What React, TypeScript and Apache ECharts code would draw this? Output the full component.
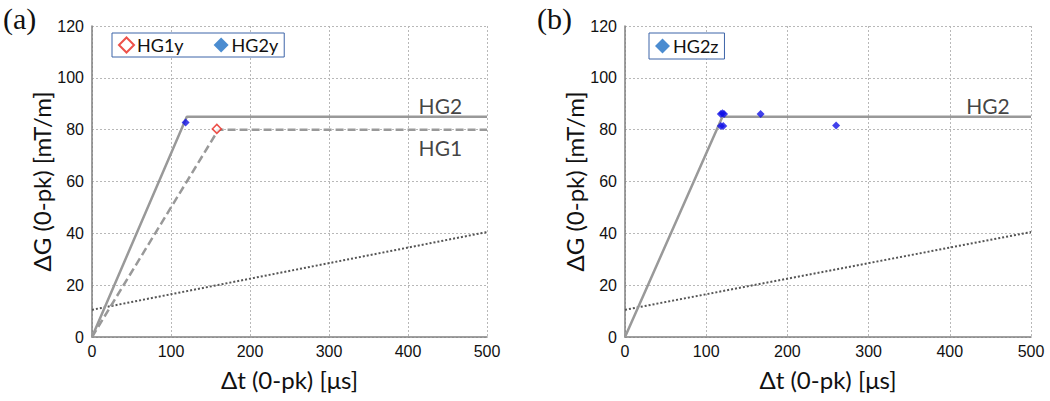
import React, { useEffect, useRef } from "react";
import * as echarts from "echarts";

const xTicks = [0, 100, 200, 300, 400, 500];
const yTicks = [0, 20, 40, 60, 80, 100, 120];
const hg2Limit: [number, number][] = [[0, 0], [120, 85], [500, 85]];
const hg1Limit: [number, number][] = [[0, 0], [160, 80], [500, 80]];
const dottedLine: [number, number][] = [[0, 10.5], [500, 40.5]];
const hg1yPoints: [number, number][] = [[158, 80.3]];
const hg2yPoints: [number, number][] = [[118.5, 82.8]];
const hg2zPoints: [number, number][] = [
  [118, 86], [120, 86.3], [122, 86], [118, 81.4], [121, 81.4], [167, 86], [260, 81.6],
];

const tickFont = "'Liberation Sans', Arial, sans-serif";
const titleFont = "Lato, 'Open Sans', sans-serif";

function makeX(gridIndex: number) {
  return {
    type: "value",
    gridIndex,
    min: xTicks[0],
    max: xTicks[xTicks.length - 1],
    interval: 100,
    name: "Δt (0-pk) [μs]",
    nameLocation: "middle",
    nameGap: 30,
    nameTextStyle: { fontFamily: titleFont, fontSize: 24, color: "#111" },
    axisLine: { show: true, lineStyle: { color: "#808080", width: 1.5 } },
    axisTick: { show: false },
    axisLabel: { fontFamily: tickFont, fontSize: 16, color: "#111", margin: 6 },
    splitLine: { show: true, lineStyle: { color: "#b8b8b8", type: [2, 2], width: 1 } },
  };
}
function makeY(gridIndex: number) {
  return {
    type: "value",
    gridIndex,
    min: yTicks[0],
    max: yTicks[yTicks.length - 1],
    interval: 20,
    name: "ΔG (0-pk) [mT/m]",
    nameLocation: "middle",
    nameGap: 35,
    nameTextStyle: { fontFamily: titleFont, fontSize: 24, color: "#111" },
    axisLine: { show: true, lineStyle: { color: "#808080", width: 1.5 } },
    axisTick: { show: false },
    axisLabel: { fontFamily: tickFont, fontSize: 16, color: "#111", margin: 8 },
    splitLine: { show: true, lineStyle: { color: "#b8b8b8", type: [2, 2], width: 1 } },
  };
}

function lineSeries(name: string, data: [number, number][], idx: number, type: any, color = "#999", width = 2.5) {
  return {
    name,
    type: "line",
    xAxisIndex: idx,
    yAxisIndex: idx,
    data,
    symbol: "none",
    silent: true,
    lineStyle: { color, width, type },
    z: 2,
  };
}

function labelSeries(idx: number, items: { pos: [number, number]; text: string }[]) {
  return {
    type: "scatter",
    xAxisIndex: idx,
    yAxisIndex: idx,
    symbolSize: 0,
    silent: true,
    data: items.map((it) => ({ value: it.pos, label: { formatter: it.text } })),
    label: {
      show: true,
      position: "inside",
      fontFamily: titleFont,
      fontSize: 21,
      color: "#111",
    },
  };
}

export default function App() {
  const ref = useRef<HTMLDivElement>(null);
  useEffect(() => {
    const chart = echarts.init(ref.current!, null, { renderer: "svg" });
    const legendBase = {
      top: 33,
      orient: "horizontal",
      itemWidth: 15,
      itemHeight: 15,
      borderColor: "#3d64a8",
      borderWidth: 1,
      backgroundColor: "#fff",
      textStyle: { fontFamily: titleFont, fontSize: 18, color: "#111", padding: [0, 0, 0, -2] },
    };
    chart.setOption({
      animation: false,
      backgroundColor: "#fff",
      grid: [
        { left: 92, right: 563, top: 26, bottom: 64 },
        { left: 625, right: 19, top: 26, bottom: 64 },
      ],
      xAxis: [makeX(0), makeX(1)],
      yAxis: [makeY(0), makeY(1)],
      legend: [
        {
          ...legendBase,
          data: [
            { name: "HG1y", itemStyle: { color: "#fff", borderColor: "#e8261d", borderWidth: 2 } },
            { name: "HG2y", itemStyle: { color: "#1e6fc4" } },
          ],
          left: 112,
          itemGap: 30,
          padding: [3, 6, 3, 6],
        },
        {
          ...legendBase,
          data: [{ name: "HG2z", itemStyle: { color: "#1e6fc4" } }],
          left: 649,
          padding: [4, 6, 4, 6],
        },
      ],
      graphic: [
        { type: "text", left: 3, top: 3, style: { text: "(a)", font: "30px 'Liberation Serif', 'Times New Roman', serif", fill: "#111" } },
        { type: "text", left: 537, top: 3, style: { text: "(b)", font: "30px 'Liberation Serif', 'Times New Roman', serif", fill: "#111" } },
      ],
      series: [
        lineSeries("dotA", dottedLine, 0, [2, 2], "#555", 2),
        lineSeries("HG1 limit", hg1Limit, 0, [8, 4]),
        lineSeries("HG2 limit", hg2Limit, 0, "solid"),
        labelSeries(0, [
          { pos: [441, 89.5], text: "HG2" },
          { pos: [441, 73], text: "HG1" },
        ]),
        {
          name: "HG1y",
          type: "scatter",
          xAxisIndex: 0,
          yAxisIndex: 0,
          data: hg1yPoints,
          symbol: "diamond",
          symbolSize: 9,
          itemStyle: { color: "#fff", borderColor: "#e8261d", borderWidth: 1.5 },
          z: 5,
        },
        {
          name: "HG2y",
          type: "scatter",
          xAxisIndex: 0,
          yAxisIndex: 0,
          data: hg2yPoints,
          symbol: "diamond",
          symbolSize: 8,
          itemStyle: { color: "#1010e6" },
          z: 5,
        },
        lineSeries("dotB", dottedLine, 1, [2, 2], "#555", 2),
        lineSeries("HG2 limit b", hg2Limit, 1, "solid"),
        labelSeries(1, [{ pos: [447, 89.5], text: "HG2" }]),
        {
          name: "HG2z",
          type: "scatter",
          xAxisIndex: 1,
          yAxisIndex: 1,
          data: hg2zPoints,
          symbol: "diamond",
          symbolSize: 8,
          itemStyle: { color: "#1010e6" },
          z: 5,
        },
      ],
    });
    return () => chart.dispose();
  }, []);
  return <div ref={ref} style={{ width: 1050, height: 401, position: "absolute", left: 0, top: 0 }} />;
}
